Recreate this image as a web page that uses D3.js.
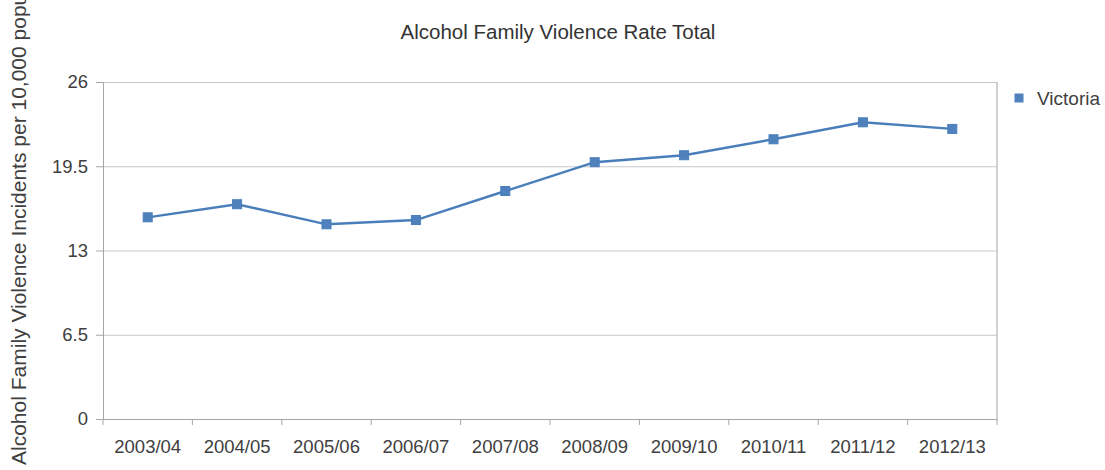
<!DOCTYPE html>
<html>
<head>
<meta charset="utf-8">
<script src="https://cdn.jsdelivr.net/npm/d3@7"></script>
<style>
  body { margin: 0; background: #fff; }
  svg { font-family: "Liberation Sans", Arial, sans-serif; }
</style>
</head>
<body>
<svg id="chart"></svg>
<script>
// Chart data
const years = ['2003/04', '2004/05', '2005/06', '2006/07', '2007/08',
               '2008/09', '2009/10', '2010/11', '2011/12', '2012/13'];
const victoria = [15.56, 16.57, 15.02, 15.35, 17.59, 19.81, 20.35, 21.58, 22.89, 22.38];
const yTicks = [0, 6.5, 13, 19.5, 26];

// Set up chart dimensions
const W = 1105, H = 470;
const margin = { top: 82, right: 108, bottom: 51, left: 103 };
const width = W - margin.left - margin.right;
const height = H - margin.top - margin.bottom;
const blue = '#4a7ebb';

const svg = d3.select('#chart')
  .attr('width', W)
  .attr('height', H);

const g = svg.append('g')
  .attr('transform', `translate(${margin.left},${margin.top})`);

// Create scales
const x = d3.scaleBand().domain(years).range([0, width]);
const y = d3.scaleLinear().domain([0, 26]).range([height, 0]);

// Gridlines
g.append('g')
  .call(d3.axisLeft(y).tickValues(yTicks).tickSize(-width).tickFormat(''))
  .call(s => s.select('.domain').remove())
  .selectAll('line').attr('stroke', '#c8c8c8');

// Right border
g.append('line')
  .attr('x1', width).attr('x2', width)
  .attr('y1', 0).attr('y2', height)
  .attr('stroke', '#a6a6a6');

// Y axis
const yAxis = g.append('g')
  .call(d3.axisLeft(y).tickValues(yTicks).tickSize(7).tickPadding(8).tickFormat(d => d));
yAxis.select('.domain').attr('stroke', '#a6a6a6');
yAxis.selectAll('line').attr('stroke', '#a6a6a6');
yAxis.selectAll('text').attr('font-size', 18.5).attr('fill', '#404040');

// X axis: labels at band centres, ticks at band edges
const xAxis = g.append('g')
  .attr('transform', `translate(0,${height})`)
  .call(d3.axisBottom(x).tickSize(0).tickPadding(21));
xAxis.select('.domain').attr('stroke', '#a6a6a6');
xAxis.selectAll('text').attr('font-size', 18.5).attr('fill', '#404040');
xAxis.selectAll('.edge')
  .data(years.map(d => x(d)).concat([width]))
  .enter().append('line')
  .attr('x1', d => d).attr('x2', d => d)
  .attr('y1', 0).attr('y2', 6)
  .attr('stroke', '#a6a6a6');

// Line
const line = d3.line()
  .x((d, i) => x(years[i]) + x.bandwidth() / 2)
  .y(d => y(d));

g.append('path')
  .datum(victoria)
  .attr('d', line)
  .attr('fill', 'none')
  .attr('stroke', blue)
  .attr('stroke-width', 2.4);

// Markers
const ms = 9;
g.selectAll('.marker')
  .data(victoria)
  .enter().append('rect')
  .attr('class', 'marker')
  .attr('x', (d, i) => x(years[i]) + x.bandwidth() / 2 - ms / 2)
  .attr('y', d => y(d) - ms / 2)
  .attr('width', ms)
  .attr('height', ms)
  .attr('fill', '#4f81bd')
  .attr('stroke', blue);

// Title
svg.append('text')
  .attr('x', 558)
  .attr('y', 39)
  .attr('text-anchor', 'middle')
  .attr('font-size', 20.5)
  .attr('fill', '#333')
  .text('Alcohol Family Violence Rate Total');

// Y axis label (clipped at the top edge as in the original)
svg.append('text')
  .attr('transform', 'translate(26,465) rotate(-90)')
  .attr('font-size', 21)
  .attr('fill', '#404040')
  .text('Alcohol Family Violence Incidents per 10,000 population');

// Legend
const legend = svg.append('g').attr('transform', 'translate(1019,98)');
legend.append('rect')
  .attr('x', -4.5).attr('y', -4.5)
  .attr('width', 9).attr('height', 9)
  .attr('fill', '#4f81bd');
legend.append('text')
  .attr('x', 18)
  .attr('y', 7)
  .attr('font-size', 19)
  .attr('fill', '#404040')
  .text('Victoria');
</script>
</body>
</html>
